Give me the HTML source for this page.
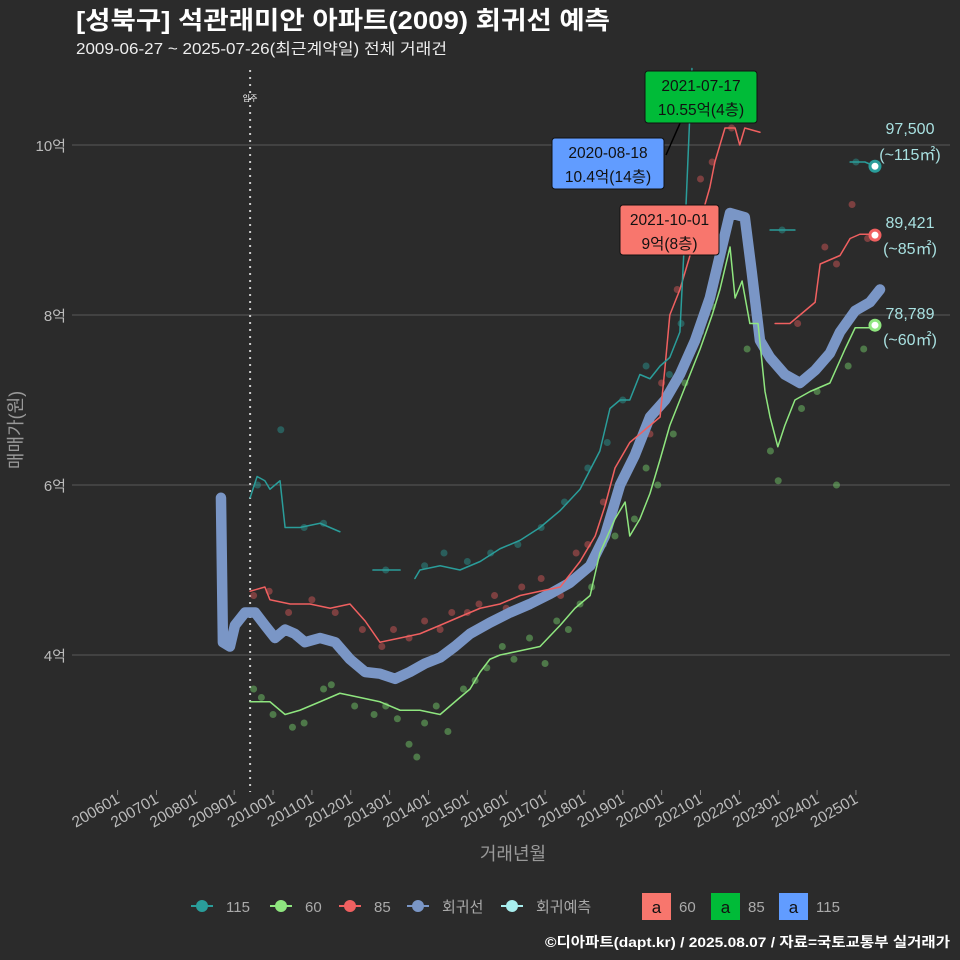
<!DOCTYPE html>
<html><head><meta charset="utf-8">
<style>
body{margin:0;background:#2b2b2b;}
svg{display:block;font-family:"Liberation Sans","Noto Sans CJK KR",sans-serif;}
</style></head>
<body>
<svg id="c" width="960" height="960" viewBox="0 0 960 960" xmlns="http://www.w3.org/2000/svg">
<rect width="960" height="960" fill="#2b2b2b"/>
<text x="76" y="29" fill="#fff" font-size="25" font-weight="bold" textLength="534" lengthAdjust="spacingAndGlyphs">[성북구] 석관래미안 아파트(2009) 회귀선 예측</text>
<text x="76" y="54" fill="#eee" font-size="15.5" textLength="371" lengthAdjust="spacingAndGlyphs">2009-06-27 ~ 2025-07-26(최근계약일) 전체 거래건</text>
<g id="grid"></g>
<g id="marks"></g>
<g id="ann"></g>
<text transform="translate(22,430) rotate(-90)" text-anchor="middle" fill="#999" font-size="18">매매가(원)</text>
<text x="513" y="860" text-anchor="middle" fill="#999" font-size="18">거래년월</text>
<g id="legend"></g>
<text x="950" y="947" text-anchor="end" fill="#fff" font-size="14" font-weight="bold" textLength="405" lengthAdjust="spacingAndGlyphs">©디아파트(dapt.kr) / 2025.08.07 / 자료=국토교통부 실거래가</text>
</svg>
<script>
const yTicks=[4,6,8,10];
const xTickYears=[2006,2007,2008,2009,2010,2011,2012,2013,2014,2015,2016,2017,2018,2019,2020,2021,2022,2023,2024,2025];
const reg=[[2008.66,5.85],[2008.71,4.15],[2008.89,4.1],[2009.02,4.35],[2009.28,4.5],[2009.54,4.5],[2009.79,4.35],[2010.05,4.2],[2010.31,4.3],[2010.56,4.25],[2010.82,4.15],[2011.21,4.2],[2011.6,4.15],[2011.98,3.95],[2012.37,3.8],[2012.75,3.78],[2013.14,3.72],[2013.52,3.8],[2013.91,3.9],[2014.3,3.97],[2014.68,4.1],[2015.07,4.25],[2015.58,4.38],[2016.1,4.5],[2016.61,4.6],[2017.13,4.72],[2017.64,4.85],[2018.16,5.05],[2018.54,5.4],[2018.93,6.0],[2019.31,6.35],[2019.7,6.8],[2020.09,7.0],[2020.47,7.3],[2020.86,7.7],[2021.24,8.2],[2021.5,8.7],[2021.76,9.2],[2022.14,9.15],[2022.32,8.5],[2022.53,7.7],[2022.79,7.5],[2023.17,7.3],[2023.56,7.2],[2023.95,7.35],[2024.33,7.55],[2024.59,7.8],[2024.98,8.05],[2025.36,8.15],[2025.62,8.3]];
const s85a=[[2009.41,4.75],[2009.79,4.8],[2009.92,4.65],[2010.44,4.6],[2010.95,4.6],[2011.47,4.55],[2011.98,4.6],[2012.37,4.4],[2012.75,4.15],[2013.27,4.2],[2013.78,4.25],[2014.3,4.35],[2014.81,4.45],[2015.33,4.55],[2015.84,4.6],[2016.36,4.7],[2016.87,4.75],[2017.39,4.8],[2017.9,5.1],[2018.29,5.4],[2018.54,5.75],[2018.8,6.2],[2019.18,6.5],[2019.7,6.7],[2019.96,6.8],[2020.09,7.4],[2020.21,8.0],[2020.47,8.3],[2020.73,8.7],[2020.99,9.1],[2021.24,9.5],[2021.37,9.8],[2021.5,10.0],[2021.63,10.2],[2021.89,10.2],[2022.01,10.0],[2022.14,10.2],[2022.53,10.15]];
const s85b=[[2022.92,7.9],[2023.3,7.9],[2023.56,8.0],[2023.95,8.15],[2024.08,8.6],[2024.59,8.7],[2024.85,8.9],[2025.1,8.95],[2025.49,8.95]];
const s115a=[[2009.41,5.85],[2009.59,6.1],[2009.79,6.05],[2009.92,5.95],[2010.18,6.05],[2010.31,5.5],[2010.69,5.5],[2011.21,5.55],[2011.72,5.45]];
const s115b=[[2012.57,5.0],[2013.27,5.0]];
const s115c=[[2013.65,4.9],[2013.78,5.0],[2014.3,5.05],[2014.81,5.0],[2015.33,5.1],[2015.84,5.25],[2016.36,5.35],[2016.87,5.5],[2017.39,5.7],[2017.9,5.95],[2018.41,6.4],[2018.67,6.9],[2018.93,7.0],[2019.18,7.0],[2019.44,7.3],[2019.7,7.25],[2019.96,7.4],[2020.21,7.5],[2020.47,7.8],[2020.6,9.0],[2020.73,10.4],[2020.78,10.9]];
const s115d=[[2022.79,9.0],[2023.43,9.0]];
const s115e=[[2024.85,9.8],[2025.23,9.8],[2025.49,9.75]];
const s60=[[2009.41,3.45],[2009.92,3.45],[2010.31,3.3],[2010.69,3.35],[2011.21,3.45],[2011.72,3.55],[2012.24,3.5],[2012.75,3.45],[2013.27,3.35],[2013.78,3.35],[2014.3,3.3],[2014.81,3.5],[2015.07,3.6],[2015.33,3.8],[2015.58,3.95],[2015.84,4.0],[2016.36,4.05],[2016.87,4.1],[2017.39,4.35],[2017.77,4.55],[2018.16,4.7],[2018.41,5.2],[2018.8,5.6],[2019.06,5.8],[2019.18,5.4],[2019.44,5.6],[2019.7,5.9],[2019.96,6.3],[2020.21,6.7],[2020.47,7.0],[2020.73,7.3],[2020.99,7.6],[2021.3,8.0],[2021.5,8.3],[2021.76,8.8],[2021.89,8.2],[2022.07,8.4],[2022.27,7.9],[2022.48,7.9],[2022.66,7.1],[2022.79,6.8],[2022.99,6.45],[2023.17,6.7],[2023.43,7.0],[2023.82,7.1],[2024.33,7.2],[2024.72,7.6],[2024.98,7.85],[2025.36,7.85]];
const pts60=[[2009.5,3.6],[2009.7,3.5],[2010.0,3.3],[2010.5,3.15],[2010.8,3.2],[2011.3,3.6],[2011.5,3.65],[2012.1,3.4],[2012.6,3.3],[2012.9,3.4],[2013.2,3.25],[2013.5,2.95],[2013.7,2.8],[2013.9,3.2],[2014.2,3.4],[2014.5,3.1],[2014.9,3.6],[2015.2,3.7],[2015.5,3.85],[2015.9,4.1],[2016.2,3.95],[2016.6,4.2],[2017.0,3.9],[2017.3,4.4],[2017.6,4.3],[2017.9,4.6],[2018.2,4.8],[2018.5,5.3],[2018.8,5.4],[2019.3,5.6],[2019.6,6.2],[2019.9,6.0],[2020.3,6.6],[2020.6,7.2],[2021.0,7.8],[2021.3,8.1],[2022.2,7.6],[2022.8,6.4],[2023.0,6.05],[2023.6,6.9],[2024.0,7.1],[2024.5,6.0],[2024.8,7.4],[2025.2,7.6]];
const pts85=[[2009.5,4.7],[2009.9,4.75],[2010.4,4.5],[2011.0,4.65],[2011.6,4.5],[2012.3,4.3],[2012.8,4.1],[2013.1,4.3],[2013.5,4.2],[2013.9,4.4],[2014.3,4.3],[2014.6,4.5],[2015.0,4.5],[2015.3,4.6],[2015.7,4.7],[2016.0,4.55],[2016.4,4.8],[2016.9,4.9],[2017.4,4.7],[2017.8,5.2],[2018.1,5.3],[2018.5,5.8],[2018.9,6.0],[2019.3,6.4],[2019.7,6.6],[2020.0,7.2],[2020.4,8.3],[2020.7,8.9],[2021.0,9.6],[2021.3,9.8],[2021.8,10.2],[2023.5,7.9],[2024.2,8.8],[2024.5,8.6],[2024.9,9.3],[2025.3,8.9]];
const pts115=[[2009.6,6.0],[2010.2,6.65],[2010.8,5.5],[2011.3,5.55],[2012.9,5.0],[2013.9,5.05],[2014.4,5.2],[2015.0,5.1],[2015.6,5.2],[2016.3,5.3],[2016.9,5.5],[2017.5,5.8],[2018.1,6.2],[2018.6,6.5],[2019.0,7.0],[2019.6,7.4],[2020.2,7.3],[2020.5,7.9],[2023.1,9.0],[2025.0,9.8]];
const endVals=[9.75,8.94,7.88];

const NS='http://www.w3.org/2000/svg';
const xs=t=>117.6+(t-2006)*38.86;
const ys=v=>655-(v-4)*85;
function mk(tag,attrs,parent){const e=document.createElementNS(NS,tag);for(const k in attrs)e.setAttribute(k,attrs[k]);parent.appendChild(e);return e;}
const grid=document.getElementById('grid'),marks=document.getElementById('marks'),ann=document.getElementById('ann'),leg=document.getElementById('legend');

yTicks.forEach(v=>{
  const l=mk('line',{x1:72,x2:950,y1:ys(v),y2:ys(v),stroke:'#5a5a5a','stroke-width':1},grid);
  
  
  const t=mk('text',{x:66,y:ys(v)+6,'text-anchor':'end',fill:'#bbb','font-size':15},grid);
  t.textContent=v+'억';
  
  
});
xTickYears.forEach(yr=>{
  const x=xs(yr);
  const l=mk('line',{x1:x,x2:x,y1:790,y2:795,stroke:'#888'},grid);
  
  
  const t=mk('text',{transform:`translate(${x+3},802) rotate(-30)`,'text-anchor':'end',fill:'#bbb','font-size':15.5},grid);
  t.textContent=yr+'01';
  
  
});
const mv=mk('line',{x1:xs(2009.41),x2:xs(2009.41),y1:70,y2:792,stroke:'#ccc','stroke-width':2,'stroke-dasharray':'2,5'},grid);


const mvt=mk('text',{x:xs(2009.41),y:101,'text-anchor':'middle',fill:'#fff','font-size':8},grid);
mvt.textContent='입주';



function dots(arr,col,name){arr.forEach(p=>{const c=mk('circle',{cx:xs(p[0]),cy:ys(p[1]),r:3.5,fill:col,'fill-opacity':0.45},marks);});}
function line(arr,col,w,name){const pl=mk('polyline',{points:arr.map(p=>xs(p[0])+','+ys(p[1])).join(' '),fill:'none',stroke:col,'stroke-width':w,'stroke-linejoin':'round','stroke-linecap':'round'},marks);}
dots(pts60,'#7ad66f','point-60');
dots(pts85,'#e05a5a','point-85');
dots(pts115,'#2a9d9a','point-115');
line(reg,'#7a96c6',10.5,'regression-line');
line(s60,'#8fe67f',1.5,'line-60');
line(s85a,'#f06060',1.5,'line-85');
line(s85b,'#f06060',1.5,'line-85');
[s115a,s115b,s115c,s115d,s115e].forEach(s=>line(s,'#2a9d9a',1.5,'line-115'));
[['#2a9d9a',endVals[0]],['#f06060',endVals[1]],['#8fe67f',endVals[2]]].forEach(([c,v])=>{
  const e=mk('circle',{cx:xs(2025.49),cy:ys(v),r:5,fill:'#fff',stroke:c,'stroke-width':3},marks);
  
  
});
[['97,500','(~115㎡)',128],['89,421','(~85㎡)',222],['78,789','(~60㎡)',313]].forEach(([a,b,y])=>{
  const t1=mk('text',{x:910,y:y+6,'text-anchor':'middle',fill:'#a8e0e0','font-size':16},ann);t1.textContent=a;
  
  const t2=mk('text',{x:910,y:y+32,'text-anchor':'middle',fill:'#a8e0e0','font-size':16},ann);t2.textContent=b;
  
});
const cl=mk('line',{x1:666,y1:155,x2:685,y2:112,stroke:'#000','stroke-width':1.5},ann);

[[645,71,112,52,'#00bb38','2021-07-17','10.55억(4층)'],[552,138,112,51,'#619cff','2020-08-18','10.4억(14층)'],[620,205,99,50,'#f8766d','2021-10-01','9억(8층)']].forEach(([x,y,w,h,c,a,b])=>{
  const r=mk('rect',{x,y,width:w,height:h,rx:3,fill:c,stroke:'#111','stroke-width':1},ann);
  
  const t1=mk('text',{x:x+w/2,y:y+20,'text-anchor':'middle',fill:'#111','font-size':15.5},ann);t1.textContent=a;
  
  const t2=mk('text',{x:x+w/2,y:y+44,'text-anchor':'middle',fill:'#111','font-size':15.5},ann);t2.textContent=b;
  
});
[[202,'#2a9d9a','115'],[281,'#8fe67f','60'],[350,'#f06060','85'],[418,'#7a96c6','회귀선'],[512,'#a8eeee','회귀예측']].forEach(([x,c,l])=>{
  const ln=mk('line',{x1:x-11,x2:x+11,y1:906,y2:906,stroke:c,'stroke-width':2},leg);
  
  const ci=mk('circle',{cx:x,cy:906,r:6,fill:c},leg);
  
  const t=mk('text',{x:x+24,y:912,fill:'#aaa','font-size':15},leg);t.textContent=l;
  
});
[[642,'#f8766d','60'],[711,'#00bb38','85'],[779,'#619cff','115']].forEach(([x,c,l])=>{
  const r=mk('rect',{x,y:893,width:29,height:27,fill:c},leg);
  
  const a=mk('text',{x:x+14.5,y:913,'text-anchor':'middle',fill:'#111','font-size':17},leg);a.textContent='a';
  
  const t=mk('text',{x:x+37,y:912,fill:'#aaa','font-size':15},leg);t.textContent=l;
  
});
</script>
</body></html>
